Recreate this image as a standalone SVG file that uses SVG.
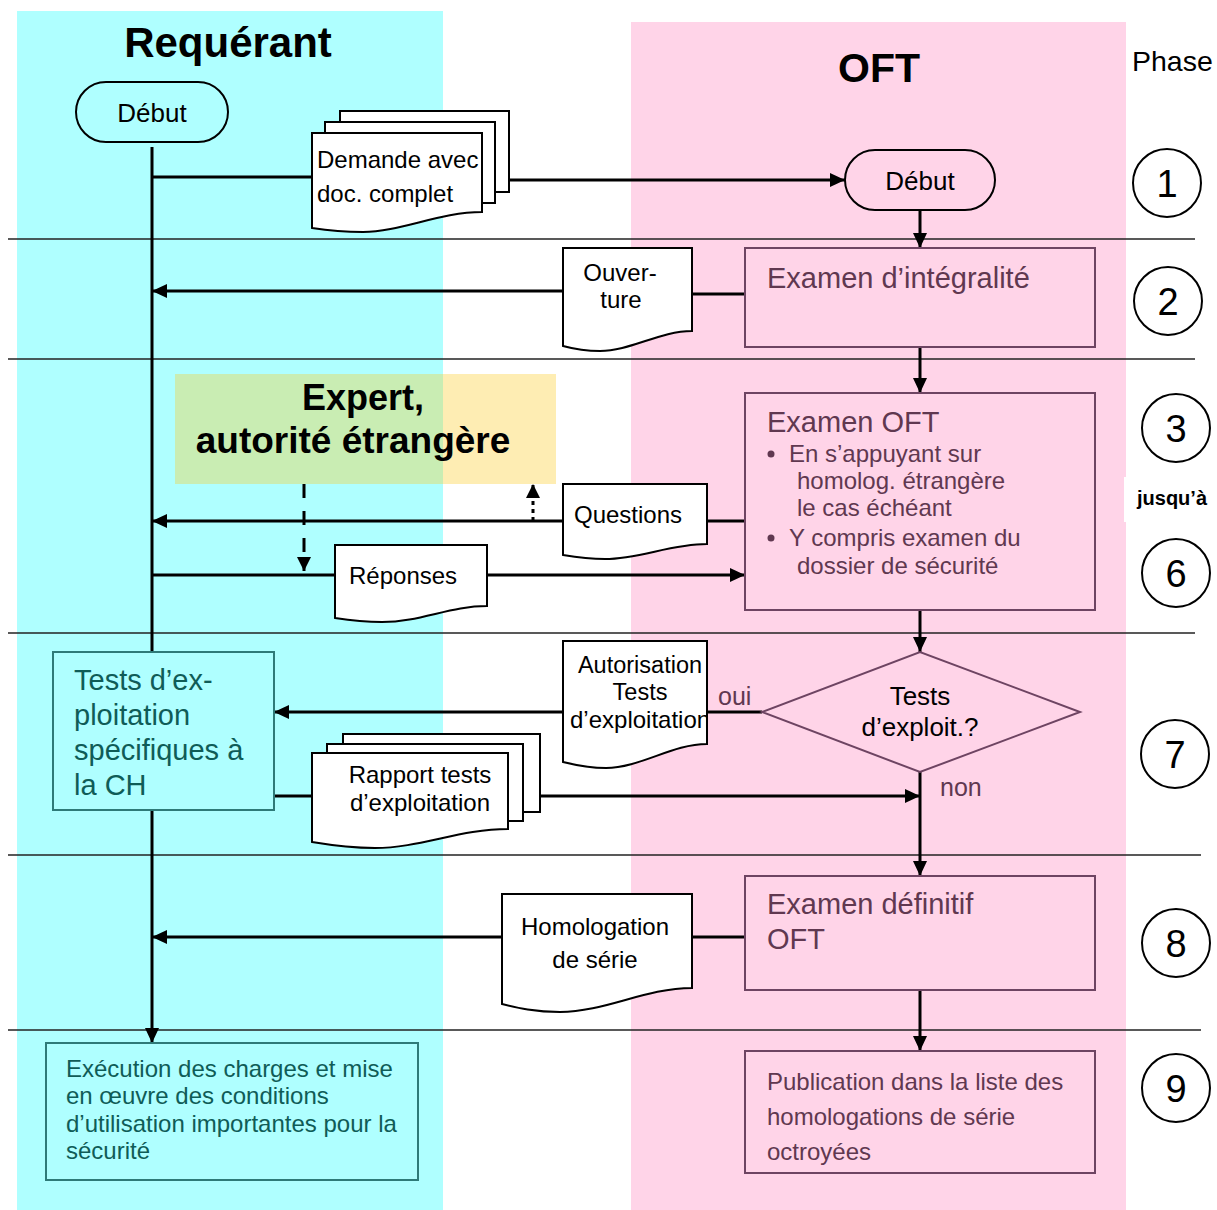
<svg xmlns="http://www.w3.org/2000/svg" width="1217" height="1210" viewBox="0 0 1217 1210">
<style>
text{font-family:"Liberation Sans",Arial,sans-serif;fill:#000}
.title{font-weight:bold;font-size:42px}
.doc{fill:#fff;stroke:#000;stroke-width:2}
.term{fill:none;stroke:#000;stroke-width:2}
.dt{font-size:24px}
.oft{fill:#FFD4E8;stroke:#6E4462;stroke-width:2}
.ot{fill:#603850}
.ch{fill:#AFFFFF;stroke:#2E7A78;stroke-width:2}
.ct{fill:#0F5C57}
.sep{stroke:#222;stroke-width:1.5;fill:none}
.ln{stroke:#000;stroke-width:3;fill:none}
.ph{fill:#fff;stroke:#000;stroke-width:2}
.pn{font-size:38px;text-anchor:middle}
.mid{text-anchor:middle}
</style>
<defs>
<marker id="ah" markerUnits="userSpaceOnUse" markerWidth="15" markerHeight="14" refX="15" refY="7" orient="auto"><path d="M0,0 L15,7 L0,14 Z" fill="#000"/></marker>
<marker id="ahs" markerUnits="userSpaceOnUse" markerWidth="14" markerHeight="14" refX="14" refY="7" orient="auto"><path d="M0,0 L14,7 L0,14 Z" fill="#000"/></marker>
<clipPath id="clipAut"><rect x="563" y="641" width="143" height="130"/></clipPath>
</defs>

<g id="lanes">
<rect x="17" y="11" width="426" height="1199" fill="#AFFFFF"/>
<rect x="631" y="22" width="495" height="1188" fill="#FFD4E8"/>
<text class="title mid" x="228" y="57">Requérant</text>
<text class="title mid" x="879" y="82" style="font-size:41px">OFT</text>
<text x="1132" y="71" style="font-size:28.5px">Phase</text>
</g>

<g id="separators">
<line class="sep" x1="8" y1="239" x2="1195" y2="239"/>
<line class="sep" x1="8" y1="359" x2="1195" y2="359"/>
<line class="sep" x1="8" y1="633" x2="1195" y2="633"/>
<line class="sep" x1="8" y1="855" x2="1201" y2="855"/>
<line class="sep" x1="8" y1="1030" x2="1201" y2="1030"/>
</g>

<g id="expert">
<rect x="175" y="374" width="268" height="110" fill="#C9EDB3"/>
<rect x="443" y="374" width="113" height="110" fill="#FEEDB3"/>
<text class="mid" x="363" y="410" style="font-weight:bold;font-size:36px">Expert,</text>
<text class="mid" x="353" y="453" style="font-weight:bold;font-size:37px">autorité étrangère</text>
</g>

<g id="connectors">
<path class="ln" d="M152,147 V652"/>
<path class="ln" d="M152,810 V1043" marker-end="url(#ah)"/>
<path class="ln" d="M152,177 H312"/>
<path class="ln" d="M509,180 H845" marker-end="url(#ah)"/>
<path class="ln" d="M920,210 V248" marker-end="url(#ah)"/>
<path class="ln" d="M686,294 H745"/>
<path class="ln" d="M563,291 H152" marker-end="url(#ah)"/>
<path class="ln" d="M920,347 V393" marker-end="url(#ah)"/>
<path class="ln" d="M707,521 H745"/>
<path class="ln" d="M563,521 H152" marker-end="url(#ah)"/>
<path class="ln" d="M152,575 H335"/>
<path class="ln" d="M487,575 H745" marker-end="url(#ah)"/>
<path class="ln" d="M304,484 V571" stroke-dasharray="14 13" marker-end="url(#ahs)"/>
<path class="ln" d="M533,521 V484" stroke-dasharray="4 4" marker-end="url(#ahs)"/>
<path class="ln" d="M920,610 V652" marker-end="url(#ah)"/>
<path class="ln" d="M707,712 H762"/>
<path class="ln" d="M563,712 H274" marker-end="url(#ah)"/>
<path class="ln" d="M274,796 H312"/>
<path class="ln" d="M540,796 H920" marker-end="url(#ah)"/>
<path class="ln" d="M920,772 V876" marker-end="url(#ah)"/>
<path class="ln" d="M692,937 H745"/>
<path class="ln" d="M502,937 H152" marker-end="url(#ah)"/>
<path class="ln" d="M920,990 V1051" marker-end="url(#ah)"/>
</g>

<g id="debut-requerant">
<rect class="term" x="76" y="82" width="152" height="60" rx="30" ry="30"/>
<text class="mid" x="152" y="122" style="font-size:26px">Début</text>
</g>

<g id="doc-demande">
<rect class="doc" x="340" y="111" width="169" height="81"/>
<rect class="doc" x="325" y="122" width="170" height="81"/>
<path class="doc" d="M312,133 H482 V212 C440,212 400,232 363,232 C340,232 325,230 312,228 Z"/>
<text class="dt" x="317" y="168">Demande avec</text>
<text class="dt" x="317" y="202">doc. complet</text>
</g>

<g id="debut-oft">
<rect class="term" x="845" y="150" width="150" height="60" rx="30" ry="30"/>
<text class="mid" x="920" y="190" style="font-size:26px">Début</text>
</g>

<g id="examen-integralite">
<rect class="oft" x="745" y="248" width="350" height="99"/>
<text class="ot" x="767" y="288" style="font-size:29px">Examen d’intégralité</text>
</g>

<g id="doc-ouverture">
<path class="doc" d="M563,248 H692 V331 C660,331 630,351 600,351 C585,351 574,349 563,346 Z"/>
<text class="dt mid" x="620" y="281">Ouver-</text>
<text class="dt mid" x="621" y="308">ture</text>
</g>

<g id="examen-oft">
<rect class="oft" x="745" y="393" width="350" height="217"/>
<text class="ot" x="767" y="432" style="font-size:29px">Examen OFT</text>
<circle cx="771" cy="454" r="3.5" fill="#603850"/>
<text class="ot" x="789" y="462" style="font-size:24px">En s’appuyant sur</text>
<text class="ot" x="797" y="489" style="font-size:24px">homolog. étrangère</text>
<text class="ot" x="797" y="516" style="font-size:24px">le cas échéant</text>
<circle cx="771" cy="538" r="3.5" fill="#603850"/>
<text class="ot" x="789" y="546" style="font-size:24px">Y compris examen du</text>
<text class="ot" x="797" y="574" style="font-size:24px">dossier de sécurité</text>
</g>

<g id="doc-questions">
<path class="doc" d="M563,484 H707 V544 C670,544 640,559 605,559 C588,559 575,557 563,555 Z"/>
<text class="dt" x="574" y="523">Questions</text>
</g>

<g id="doc-reponses">
<path class="doc" d="M335,545 H487 V606 C450,606 420,622 382,622 C362,622 348,620 335,618 Z"/>
<text class="dt" x="349" y="584">Réponses</text>
</g>

<g id="decision">
<path d="M762,712 L920,652 L1080,712 L920,772 Z" fill="#FFD4E8" stroke="#6E4462" stroke-width="2"/>
<text class="mid" x="920" y="705" style="font-size:26px">Tests</text>
<text class="mid" x="920" y="736" style="font-size:26px">d’exploit.?</text>
<text class="ot" x="718" y="705" style="font-size:25px">oui</text>
<text class="ot" x="940" y="796" style="font-size:25px">non</text>
</g>

<g id="doc-autorisation">
<path class="doc" d="M563,641 H707 V744 C672,744 640,768 606,768 C588,768 575,765 563,762 Z"/>
<g clip-path="url(#clipAut)">
<text class="mid" x="640" y="673" style="font-size:23.5px">Autorisation</text>
<text class="mid" x="640" y="700" style="font-size:23.5px">Tests</text>
<text x="570" y="728" style="font-size:24px">d’exploitation</text>
</g>
<line x1="707" y1="641" x2="707" y2="744" stroke="#000" stroke-width="2"/>
</g>

<g id="tests-ch">
<rect class="ch" x="53" y="652" width="221" height="158"/>
<text class="ct" x="74" y="690" style="font-size:29px">Tests d’ex-</text>
<text class="ct" x="74" y="725" style="font-size:29px">ploitation</text>
<text class="ct" x="74" y="760" style="font-size:29px">spécifiques à</text>
<text class="ct" x="74" y="795" style="font-size:29px">la CH</text>
</g>

<g id="doc-rapport">
<rect class="doc" x="343" y="734" width="197" height="78"/>
<rect class="doc" x="327" y="744" width="196" height="77"/>
<path class="doc" d="M312,753 H508 V829 C460,829 420,848 375,848 C350,848 330,845 312,842 Z"/>
<text class="dt mid" x="420" y="783">Rapport tests</text>
<text class="dt mid" x="420" y="811">d’exploitation</text>
</g>

<g id="examen-definitif">
<rect class="oft" x="745" y="876" width="350" height="114"/>
<text class="ot" x="767" y="914" style="font-size:29px">Examen définitif</text>
<text class="ot" x="767" y="949" style="font-size:29px">OFT</text>
</g>

<g id="doc-homologation">
<path class="doc" d="M502,894 H692 V988 C645,988 605,1012 560,1012 C535,1012 518,1008 502,1004 Z"/>
<text class="dt mid" x="595" y="935">Homologation</text>
<text class="dt mid" x="595" y="968">de série</text>
</g>

<g id="publication">
<rect class="oft" x="745" y="1051" width="350" height="122"/>
<text class="ot" x="767" y="1090" style="font-size:24px">Publication dans la liste des</text>
<text class="ot" x="767" y="1125" style="font-size:24px">homologations de série</text>
<text class="ot" x="767" y="1160" style="font-size:24px">octroyées</text>
</g>

<g id="execution">
<rect class="ch" x="46" y="1043" width="372" height="137"/>
<text class="ct" x="66" y="1077" style="font-size:24px">Exécution des charges et mise</text>
<text class="ct" x="66" y="1104" style="font-size:24px">en œuvre des conditions</text>
<text class="ct" x="66" y="1132" style="font-size:24px">d’utilisation importantes pour la</text>
<text class="ct" x="66" y="1159" style="font-size:24px">sécurité</text>
</g>

<g id="phases">
<ellipse class="ph" cx="1167" cy="183" rx="34" ry="34"/>
<text class="pn" x="1167" y="197">1</text>
<ellipse class="ph" cx="1168" cy="301" rx="34" ry="34"/>
<text class="pn" x="1168" y="315">2</text>
<ellipse class="ph" cx="1176" cy="428" rx="34" ry="34"/>
<text class="pn" x="1176" y="442">3</text>
<rect x="1124" y="477" width="93" height="45" fill="#fff"/>
<text x="1137" y="505" style="font-weight:bold;font-size:20px">jusqu’à</text>
<ellipse class="ph" cx="1176" cy="573" rx="34" ry="34"/>
<text class="pn" x="1176" y="587">6</text>
<ellipse class="ph" cx="1175" cy="754" rx="34" ry="34"/>
<text class="pn" x="1175" y="768">7</text>
<ellipse class="ph" cx="1176" cy="943" rx="34" ry="34"/>
<text class="pn" x="1176" y="957">8</text>
<ellipse class="ph" cx="1176" cy="1088" rx="34" ry="34"/>
<text class="pn" x="1176" y="1102">9</text>
</g>
</svg>
